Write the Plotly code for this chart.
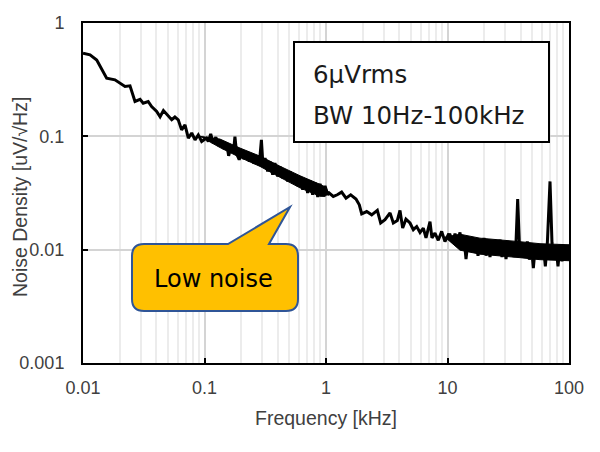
import plotly.graph_objects as go

# ---------------- data ----------------
freq_khz = [
    0.0100, 0.01143, 0.01297, 0.01469, 0.01566, 0.01832, 0.02217, 0.02437, 0.02679, 0.0295,
    0.0313, 0.0344, 0.0367, 0.0404, 0.0431, 0.0459, 0.0495, 0.0537, 0.0571, 0.0608,
    0.0648, 0.0691, 0.0736, 0.0785, 0.0836, 0.0889, 0.0948, 0.104,
    0.1074, 0.1125, 0.118, 0.124, 0.131, 0.137, 0.145, 0.152, 0.158, 0.165,
    0.173, 0.178, 0.184, 0.193, 0.202, 0.211, 0.222, 0.234, 0.245, 0.255,
    0.269, 0.282, 0.294, 0.302, 0.315, 0.331, 0.346, 0.364, 0.380, 0.400,
    0.418, 0.440, 0.460, 0.484, 0.506, 0.532, 0.556, 0.585, 0.611, 0.643,
    0.671, 0.706, 0.738, 0.776, 0.811, 0.855, 0.893, 0.939, 0.982, 1.033,
    1.064, 1.148, 1.239, 1.345, 1.461, 1.597, 1.765, 1.880, 1.967, 2.163,
    2.378, 2.645, 2.818, 3.060, 3.366, 3.581, 3.865, 4.064, 4.276, 4.550,
    4.910, 5.234, 5.580, 5.943, 6.324, 6.653, 7.178, 7.447, 7.885, 8.395,
    8.954, 9.53, 10.16,
    10.49, 11.03, 11.53, 12.05, 12.67, 13.17, 13.67, 14.20, 14.75, 15.32,
    15.91, 16.52, 17.16, 17.83, 18.51, 19.23, 19.97, 20.75, 21.54, 22.38,
    23.24, 24.14, 25.07, 26.04, 27.05, 28.09, 29.17, 30.30, 31.48, 32.69,
    33.95, 35.27, 36.63, 37.81, 39.03, 40.53, 42.10, 43.72, 45.41, 47.17,
    48.98, 50.87, 52.84, 54.88, 57.00, 59.20, 61.49, 63.87, 66.33, 69.78,
    72.46, 75.27, 78.17, 81.19, 84.33, 87.58, 90.96, 94.47, 98.13, 100.0,
]
noise_uv = [
    0.541, 0.523, 0.472, 0.372, 0.326, 0.315, 0.275, 0.279, 0.203, 0.212,
    0.196, 0.203, 0.183, 0.166, 0.149, 0.169, 0.155, 0.140, 0.148, 0.140,
    0.114, 0.126, 0.0964, 0.107, 0.0931, 0.103, 0.0900, 0.0964,
    0.0900, 0.105, 0.0871, 0.0984, 0.0825, 0.0918, 0.0771, 0.0871, 0.0673, 0.0803,
    0.0720, 0.0996, 0.0701, 0.0621, 0.0750, 0.0630, 0.0735, 0.0600, 0.0701, 0.0573,
    0.0664, 0.0561, 0.0931, 0.0581, 0.0643, 0.0490, 0.0600, 0.0458, 0.0581, 0.0443,
    0.0542, 0.0428, 0.0507, 0.0400, 0.0490, 0.0387, 0.0458, 0.0366, 0.0443, 0.0338,
    0.0420, 0.0316, 0.0408, 0.0305, 0.0392, 0.0291, 0.0381, 0.0299, 0.0366, 0.0305,
    0.0316, 0.0295, 0.0305, 0.0322, 0.0285, 0.0305, 0.0280, 0.0249, 0.0207, 0.0217,
    0.0203, 0.0222, 0.0172, 0.0184, 0.0211, 0.0172, 0.0181, 0.0222, 0.0155, 0.0186,
    0.0172, 0.0150, 0.0160, 0.0142, 0.0155, 0.0127, 0.0177, 0.0127, 0.0140, 0.0121,
    0.0145, 0.0118, 0.0136,
    0.01355, 0.01161, 0.01383, 0.01145, 0.01421, 0.01055, 0.01267, 0.00827, 0.01184, 0.0100,
    0.01225, 0.00967, 0.01209, 0.00885, 0.01184, 0.00947, 0.01267, 0.00885, 0.01107, 0.00862,
    0.01184, 0.00903, 0.01129, 0.00935, 0.01225, 0.00862, 0.01184, 0.00827, 0.01145, 0.00903,
    0.01107, 0.00862, 0.01161, 0.0280, 0.01145, 0.00903, 0.01129, 0.00874, 0.01184, 0.00816,
    0.01084, 0.00689, 0.01070, 0.00874, 0.01034, 0.00862, 0.01084, 0.00713, 0.01145, 0.0400,
    0.01145, 0.00827, 0.01055, 0.00713, 0.01107, 0.00789, 0.0100, 0.00844, 0.01070, 0.0095,
]

# solid core of the noisy band (upper / lower edge)
band1_freq = [0.0918, 0.1341, 0.1959, 0.2862, 0.4181, 0.6109, 0.8925, 0.98, 1.06]
band1_upper = [0.1000, 0.0946, 0.0788, 0.0669, 0.0545, 0.0449, 0.0377, 0.0358, 0.0318]
band1_lower = [0.1000, 0.0796, 0.0651, 0.0543, 0.0435, 0.0351, 0.0296, 0.0295, 0.0318]
band2_freq = [9.537, 12.67, 18.51, 27.05, 39.52, 57.72, 100.0]
band2_upper = [0.01289, 0.01369, 0.01263, 0.01224, 0.01176, 0.01129, 0.01105]
band2_lower = [0.01289, 0.00990, 0.00913, 0.00885, 0.00850, 0.00816, 0.00799]

x_tick_vals = [0.01, 0.1, 1, 10, 100]
x_tick_text = ["0.01", "0.1", "1", "10", "100"]
y_tick_vals = [0.001, 0.01, 0.1, 1]
y_tick_text = ["0.001", "0.01", "0.1", "1"]
x_minor_vals = [m * d for d in (0.01, 0.1, 1, 10) for m in range(2, 10)]

box_line1 = "6µVrms"
box_line2 = "BW 10Hz-100kHz"
callout_text = "Low noise"
x_title = "Frequency [kHz]"
y_title = "Noise Density [uV/√Hz]"

# ---------------- layout geometry (page pixels) ----------------
BODY = 8                      # default page body margin
W, H = 600 - BODY, 452 - BODY
PL, PR, PT, PB = 83, 569, 23, 363   # plot area on the page


def px(xp):
    return (xp - PL) / (PR - PL)


def py(yp):
    return (PB - yp) / (PB - PT)


def pt(xp, yp):
    return f"{px(xp):.5f},{py(yp):.5f}"


TXT = "#404040"
AX_FONT = "Liberation Sans, Arial, sans-serif"
BOX_FONT = "DejaVu Sans, Verdana, sans-serif"

fig = go.Figure()
for bf, bu, bl in ((band1_freq, band1_upper, band1_lower),
                   (band2_freq, band2_upper, band2_lower)):
    fig.add_trace(go.Scatter(
        x=bf + bf[::-1], y=bu + bl[::-1], mode="lines", fill="toself",
        fillcolor="black", line=dict(color="black", width=1),
        hoverinfo="skip", showlegend=False,
    ))
fig.add_trace(go.Scatter(
    x=freq_khz, y=noise_uv, mode="lines",
    line=dict(color="black", width=3), hoverinfo="skip", showlegend=False,
))

fig.update_xaxes(
    type="log", range=[-2, 2], automargin=False,
    tickmode="array", tickvals=x_tick_vals, ticktext=x_tick_text,
    ticks="inside", ticklen=5, tickwidth=2, tickcolor="black",
    showgrid=True, gridcolor="#d4d4d4", gridwidth=1.5,
    minor=dict(tickmode="array", tickvals=x_minor_vals, showgrid=True,
               gridcolor="#ececec", gridwidth=1.5, ticks=""),
    showline=True, linecolor="black", linewidth=2, mirror=True,
    tickfont=dict(family=AX_FONT, size=18, color=TXT),
    ticklabelstandoff=7, zeroline=False,
)
fig.update_yaxes(
    type="log", range=[-3, 0], automargin=False,
    tickmode="array", tickvals=y_tick_vals, ticktext=y_tick_text,
    ticks="inside", ticklen=5, tickwidth=2, tickcolor="black",
    showgrid=True, gridcolor="#d4d4d4", gridwidth=1.5,
    showline=True, linecolor="black", linewidth=2, mirror=True,
    tickfont=dict(family=AX_FONT, size=18, color=TXT),
    ticklabelstandoff=13, zeroline=False,
)

# text box
fig.add_shape(type="rect", xref="paper", yref="paper",
              x0=px(294), x1=px(549), y0=py(142), y1=py(42),
              line=dict(color="black", width=2), fillcolor="white", layer="above")

# callout with pointer
L, R, T, B, r = 132, 298, 244, 311, 12
path = (
    f"M{pt(L + r, T)} L{pt(228, T)} L{pt(290, 207)} L{pt(269, T)} L{pt(R - r, T)} "
    f"Q{pt(R, T)} {pt(R, T + r)} L{pt(R, B - r)} Q{pt(R, B)} {pt(R - r, B)} "
    f"L{pt(L + r, B)} Q{pt(L, B)} {pt(L, B - r)} L{pt(L, T + r)} Q{pt(L, T)} {pt(L + r, T)} Z"
)
fig.add_shape(type="path", xref="paper", yref="paper", path=path,
              line=dict(color="#2F5597", width=2), fillcolor="#FFC000", layer="above")

annots = [
    dict(text=box_line1, x=px(311), y=py(74), xanchor="left", yanchor="middle",
         font=dict(family=BOX_FONT, size=24.5, color="#1a1a1a")),
    dict(text=box_line2, x=px(311), y=py(115), xanchor="left", yanchor="middle",
         font=dict(family=BOX_FONT, size=24.5, color="#1a1a1a")),
    dict(text=callout_text, x=px(213), y=py(279), xanchor="center", yanchor="middle",
         font=dict(family=BOX_FONT, size=24, color="black")),
    dict(text=x_title, x=px(326), y=py(418), xanchor="center", yanchor="middle",
         font=dict(family=AX_FONT, size=19.5, color=TXT)),
    dict(text=y_title, x=px(20), y=py(197), xanchor="center", yanchor="middle",
         textangle=-90, font=dict(family=AX_FONT, size=19.5, color=TXT)),
]
for a in annots:
    fig.add_annotation(xref="paper", yref="paper", showarrow=False, **a)

fig.update_layout(
    width=W, height=H,
    margin=dict(l=PL - BODY, r=600 - PR, t=PT - BODY, b=452 - PB, pad=0),
    plot_bgcolor="white", paper_bgcolor="white",
    showlegend=False,
)

fig.write_html("out.html")
